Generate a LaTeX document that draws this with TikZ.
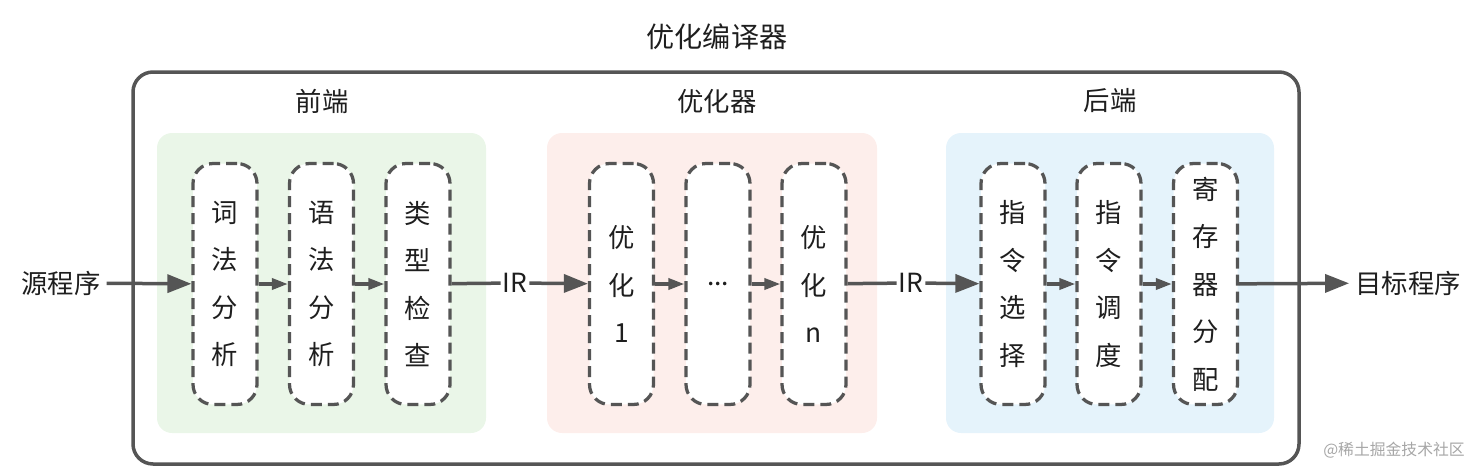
\documentclass[tikz,border=0pt]{standalone}
\usepackage{fontspec}
\setmainfont{Noto Sans CJK SC}
\usetikzlibrary{arrows.meta}

\definecolor{linegray}{HTML}{555555}
\definecolor{textdark}{HTML}{1E1E1E}
\definecolor{frontgreen}{HTML}{EAF6E8}
\definecolor{optpink}{HTML}{FDEEEB}
\definecolor{backblue}{HTML}{E5F3FB}

\tikzset{
  passbox/.style={draw=linegray, line width=0.065cm, dash pattern=on 0.22cm off 0.12cm,
    rounded corners=0.4cm, fill=white, minimum width=1.28cm, minimum height=4.82cm,
    inner sep=0pt, align=center, text=textdark, font=\fontsize{15}{27}\selectfont},
  phasebg/.style={rounded corners=0.3cm},
  lbl/.style={text=textdark, font=\fontsize{15}{18}\selectfont},
  flow/.style={draw=linegray, line width=0.07cm, -{Triangle[length=0.48cm,width=0.36cm]}},
  hop/.style={draw=linegray, line width=0.07cm, -{Triangle[length=0.32cm,width=0.22cm]}},
  wire/.style={draw=linegray, line width=0.07cm}
}

\begin{document}
\begin{tikzpicture}[x=0.02cm, y=-0.02cm]

  \useasboundingbox (0,0) rectangle (1481,470);

  % --- outer compiler box ---
  \draw[linegray, line width=0.07cm, rounded corners=0.4cm] (133,72) rectangle (1299,464);
  \node[lbl, font=\fontsize{16}{19}\selectfont] (title) at (717,37) {优化编译器};

  % --- the three phases ---
  \fill[phasebg, frontgreen] (157,133) rectangle (486,433);
  \fill[phasebg, optpink] (547,133) rectangle (877,433);
  \fill[phasebg, backblue] (946,133) rectangle (1274,433);
  \node[lbl] (front) at (322,101) {前端};
  \node[lbl] (opt) at (717,101) {优化器};
  \node[lbl] (back) at (1110,101) {后端};

  % --- front end passes ---
  \node[passbox] (lex) at (225,284) {词\\法\\分\\析};
  \node[passbox] (parse) at (321.5,284) {语\\法\\分\\析};
  \node[passbox] (check) at (418,284) {类\\型\\检\\查};

  % --- optimizer passes ---
  \node[passbox] (opta) at (621.5,284) {优\\化\\1};
  \node[passbox] (optdots) at (718,284) {...};
  \node[passbox] (optn) at (814,284) {优\\化\\n};

  % --- back end passes ---
  \node[passbox] (isel) at (1013,284) {指\\令\\选\\择};
  \node[passbox] (isched) at (1109,284) {指\\令\\调\\度};
  \node[passbox] (regalloc) at (1205.5,284) {寄\\存\\器\\分\\配};

  % --- input, output, IR ---
  \node[lbl] (src) at (61,283) {源程序};
  \node[lbl] (target) at (1408,283) {目标程序};
  \node[lbl, inner sep=1pt] (irone) at (515,283) {IR};
  \node[lbl, inner sep=1pt] (irtwo) at (911,283) {IR};

  % --- connectors ---
  \draw[flow] (src) -- (lex);
  \draw[hop] (lex) -- (parse);
  \draw[hop] (parse) -- (check);
  \draw[wire] (check) -- (irone);
  \draw[flow] (irone) -- (opta);
  \draw[hop] (opta) -- (optdots);
  \draw[hop] (optdots) -- (optn);
  \draw[wire] (optn) -- (irtwo);
  \draw[flow] (irtwo) -- (isel);
  \draw[hop] (isel) -- (isched);
  \draw[hop] (isched) -- (regalloc);
  \draw[flow] (regalloc) -- (target);

  \node[text=black!35, font=\fontsize{9}{11}\selectfont] (mark) at (1394,450) {@稀土掘金技术社区};

\end{tikzpicture}
\end{document}
